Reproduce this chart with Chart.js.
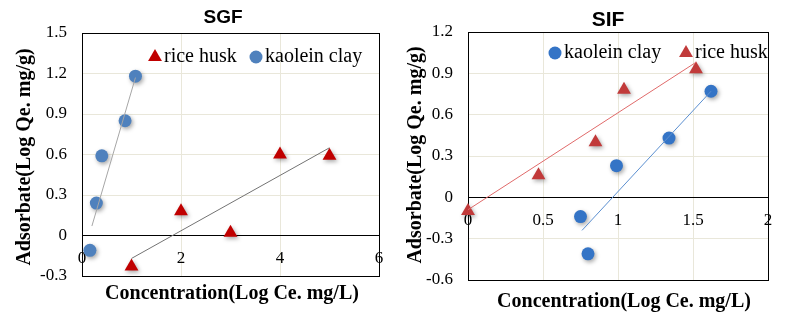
<!DOCTYPE html>
<html>
<head>
<meta charset="utf-8">
<script src="https://cdn.jsdelivr.net/npm/chart.js"></script>
<style>
  body { margin: 0; background: #fff; }
  #wrap { position: relative; width: 797px; height: 322px; }
  canvas { position: absolute; top: 0; }
</style>
</head>
<body>
<div id="wrap">
  <canvas id="sgfChart" width="400" height="322" style="left:0"></canvas>
  <canvas id="sifChart" width="397" height="322" style="left:400px"></canvas>
</div>
<script>
// ---- SGF (left panel) ----
const sgfClayX = [0.16, 0.29, 0.40, 0.87, 1.08];
const sgfClayY = [-0.11, 0.24, 0.59, 0.85, 1.18];
const sgfHuskX = [1, 2, 3, 4, 5];
const sgfHuskY = [-0.23, 0.18, 0.02, 0.60, 0.59];
const sgfClayFitX = [0.20, 1.08];
const sgfClayFitY = [0.07, 1.17];
const sgfHuskFitX = [1, 5];
const sgfHuskFitY = [-0.17, 0.65];
const sgfXTicks = [0, 2, 4, 6];
const sgfYTicks = [-0.3, 0, 0.3, 0.6, 0.9, 1.2, 1.5];

// ---- SIF (right panel) ----
const sifClayX = [0.75, 0.80, 0.99, 1.34, 1.62];
const sifClayY = [-0.14, -0.41, 0.23, 0.43, 0.77];
const sifHuskX = [0, 0.47, 0.85, 1.04, 1.52];
const sifHuskY = [-0.10, 0.16, 0.40, 0.78, 0.93];
const sifClayFitX = [0.76, 1.62];
const sifClayFitY = [-0.24, 0.77];
const sifHuskFitX = [0, 1.52];
const sifHuskFitY = [-0.09, 0.98];
const sifXTicks = [0, 0.5, 1, 1.5, 2];
const sifYTicks = [-0.6, -0.3, 0, 0.3, 0.6, 0.9, 1.2];

const xTitle = 'Concentration(Log Ce. mg/L)';
const yTitle = 'Adsorbate(Log Qe. mg/g)';

const SERIF = "'Liberation Serif', 'Times New Roman', serif";
const SANS = "'Liberation Sans', Arial, sans-serif";
const GRID = '#e9e7da';
const TRI_R = 8;
const DOT_R = 6.5;

function pts(xs, ys) {
  return xs.map((x, i) => ({ x: x, y: ys[i] }));
}

function fmt(v) {
  return Math.abs(v) < 1e-9 ? '0' : String(+v.toFixed(2));
}

function fmtY(v) {
  return Math.abs(v) < 1e-9 ? '0' : v.toFixed(1);
}

// soft drop shadow under the markers
const markerShadow = {
  id: 'markerShadow',
  beforeDatasetDraw(chart, args) {
    if (!chart.data.datasets[args.index].shadow) return;
    const ctx = chart.ctx;
    ctx.save();
    ctx.shadowColor = 'rgba(0,0,0,0.35)';
    ctx.shadowBlur = 4;
    ctx.shadowOffsetX = 1.5;
    ctx.shadowOffsetY = 2;
  },
  afterDatasetDraw(chart, args) {
    if (chart.data.datasets[args.index].shadow) chart.ctx.restore();
  }
};

function drawMarker(ctx, style, color, x, y, r) {
  ctx.fillStyle = color;
  ctx.beginPath();
  if (style === 'triangle') {
    ctx.moveTo(x, y - r);
    ctx.lineTo(x + r * 0.866, y + r * 0.5);
    ctx.lineTo(x - r * 0.866, y + r * 0.5);
    ctx.closePath();
  } else {
    ctx.arc(x, y, r, 0, Math.PI * 2);
  }
  ctx.fill();
}

// frame, titles and the in-plot legend
const decor = {
  id: 'decor',
  beforeDatasetsDraw(chart) {
    const a = chart.chartArea;
    const ctx = chart.ctx;
    ctx.save();
    ctx.strokeStyle = '#000';
    ctx.lineWidth = 1;
    ctx.strokeRect(Math.round(a.left) + 0.5, Math.round(a.top) + 0.5,
      Math.round(a.right - a.left), Math.round(a.bottom - a.top));
    ctx.restore();
  },
  afterDraw(chart, args, o) {
    const ctx = chart.ctx;
    ctx.save();
    ctx.fillStyle = '#000';
    ctx.textAlign = 'center';
    ctx.textBaseline = 'middle';

    ctx.font = 'bold ' + o.titleSize + 'px ' + SANS;
    ctx.fillText(o.title, o.titleX, o.titleY);

    ctx.font = 'bold 20px ' + SERIF;
    ctx.fillText(xTitle, o.xTitleX, o.xTitleY);

    ctx.save();
    ctx.translate(o.yTitleX, o.yTitleY);
    ctx.rotate(-Math.PI / 2);
    ctx.fillText(yTitle, 0, 0);
    ctx.restore();

    ctx.font = '20px ' + SERIF;
    ctx.textAlign = 'left';
    o.legend.forEach(item => {
      const ds = chart.data.datasets[item.dataset];
      drawMarker(ctx, ds.pointStyle, ds.backgroundColor, item.x, item.y,
        ds.pointStyle === 'triangle' ? TRI_R : DOT_R);
      ctx.fillStyle = '#000';
      ctx.fillText(ds.label, item.x + 9, item.y);
    });
    ctx.restore();
  }
};

function buildChart(id, p) {
  return new Chart(document.getElementById(id), {
    type: 'scatter',
    data: {
      datasets: [
        { label: 'clay fit', data: pts(p.clayFitX, p.clayFitY), showLine: true,
          pointRadius: 0, borderColor: p.clayLine, borderWidth: 1, clip: false },
        { label: 'husk fit', data: pts(p.huskFitX, p.huskFitY), showLine: true,
          pointRadius: 0, borderColor: p.huskLine, borderWidth: 1, clip: false },
        { label: 'rice husk', data: pts(p.huskX, p.huskY), pointStyle: 'triangle',
          pointRadius: TRI_R, pointHoverRadius: TRI_R, borderWidth: 0,
          backgroundColor: p.huskColor, borderColor: p.huskColor, shadow: true, clip: false },
        { label: 'kaolein clay', data: pts(p.clayX, p.clayY), pointStyle: 'circle',
          pointRadius: DOT_R, pointHoverRadius: DOT_R, borderWidth: 0,
          backgroundColor: p.clayColor, borderColor: p.clayColor, shadow: true, clip: false }
      ]
    },
    options: {
      responsive: false,
      animation: false,
      layout: { padding: p.padding },
      plugins: {
        legend: { display: false },
        tooltip: { enabled: false },
        decor: p.decor
      },
      scales: {
        x: {
          type: 'linear',
          position: { y: 0 },
          min: p.xTicks[0],
          max: p.xTicks[p.xTicks.length - 1],
          afterBuildTicks: s => { s.ticks = p.xTicks.map(v => ({ value: v })); },
          grid: { color: GRID, drawTicks: false },
          border: { color: '#000', width: 1 },
          ticks: { padding: 13, color: '#000', font: { family: SERIF, size: 17 },
                   maxRotation: 0, callback: fmt }
        },
        y: {
          type: 'linear',
          min: p.yTicks[0],
          max: p.yTicks[p.yTicks.length - 1],
          afterBuildTicks: s => { s.ticks = p.yTicks.map(v => ({ value: v })); },
          afterFit: s => { s.width = p.yWidth; },
          grid: { color: GRID, drawTicks: false },
          border: { color: '#000', width: 1 },
          ticks: { padding: 15, color: '#000', font: { family: SERIF, size: 17 },
                   callback: fmtY }
        }
      }
    },
    plugins: [markerShadow, decor]
  });
}

buildChart('sgfChart', {
  clayX: sgfClayX, clayY: sgfClayY, huskX: sgfHuskX, huskY: sgfHuskY,
  clayFitX: sgfClayFitX, clayFitY: sgfClayFitY, huskFitX: sgfHuskFitX, huskFitY: sgfHuskFitY,
  xTicks: sgfXTicks, yTicks: sgfYTicks,
  clayColor: '#4f81bd', huskColor: '#c00000',
  clayLine: '#a6a6a6', huskLine: '#737373',
  yWidth: 82,
  padding: { left: 0, top: 33, right: 21, bottom: 46 },
  decor: {
    title: 'SGF', titleSize: 19, titleX: 223, titleY: 18,
    xTitleX: 232, xTitleY: 294, yTitleX: 25, yTitleY: 157,
    legend: [{ dataset: 2, x: 155, y: 57 }, { dataset: 3, x: 256, y: 57 }]
  }
});

buildChart('sifChart', {
  clayX: sifClayX, clayY: sifClayY, huskX: sifHuskX, huskY: sifHuskY,
  clayFitX: sifClayFitX, clayFitY: sifClayFitY, huskFitX: sifHuskFitX, huskFitY: sifHuskFitY,
  xTicks: sifXTicks, yTicks: sifYTicks,
  clayColor: '#3474c6', huskColor: '#c13a3a',
  clayLine: '#5b8fd0', huskLine: '#e06a6a',
  yWidth: 68,
  padding: { left: 0, top: 32, right: 29, bottom: 42 },
  decor: {
    title: 'SIF', titleSize: 21, titleX: 208, titleY: 20,
    xTitleX: 224, xTitleY: 302, yTitleX: 16, yTitleY: 155,
    legend: [{ dataset: 3, x: 155, y: 53 }, { dataset: 2, x: 286, y: 53 }]
  }
});
</script>
</body>
</html>
